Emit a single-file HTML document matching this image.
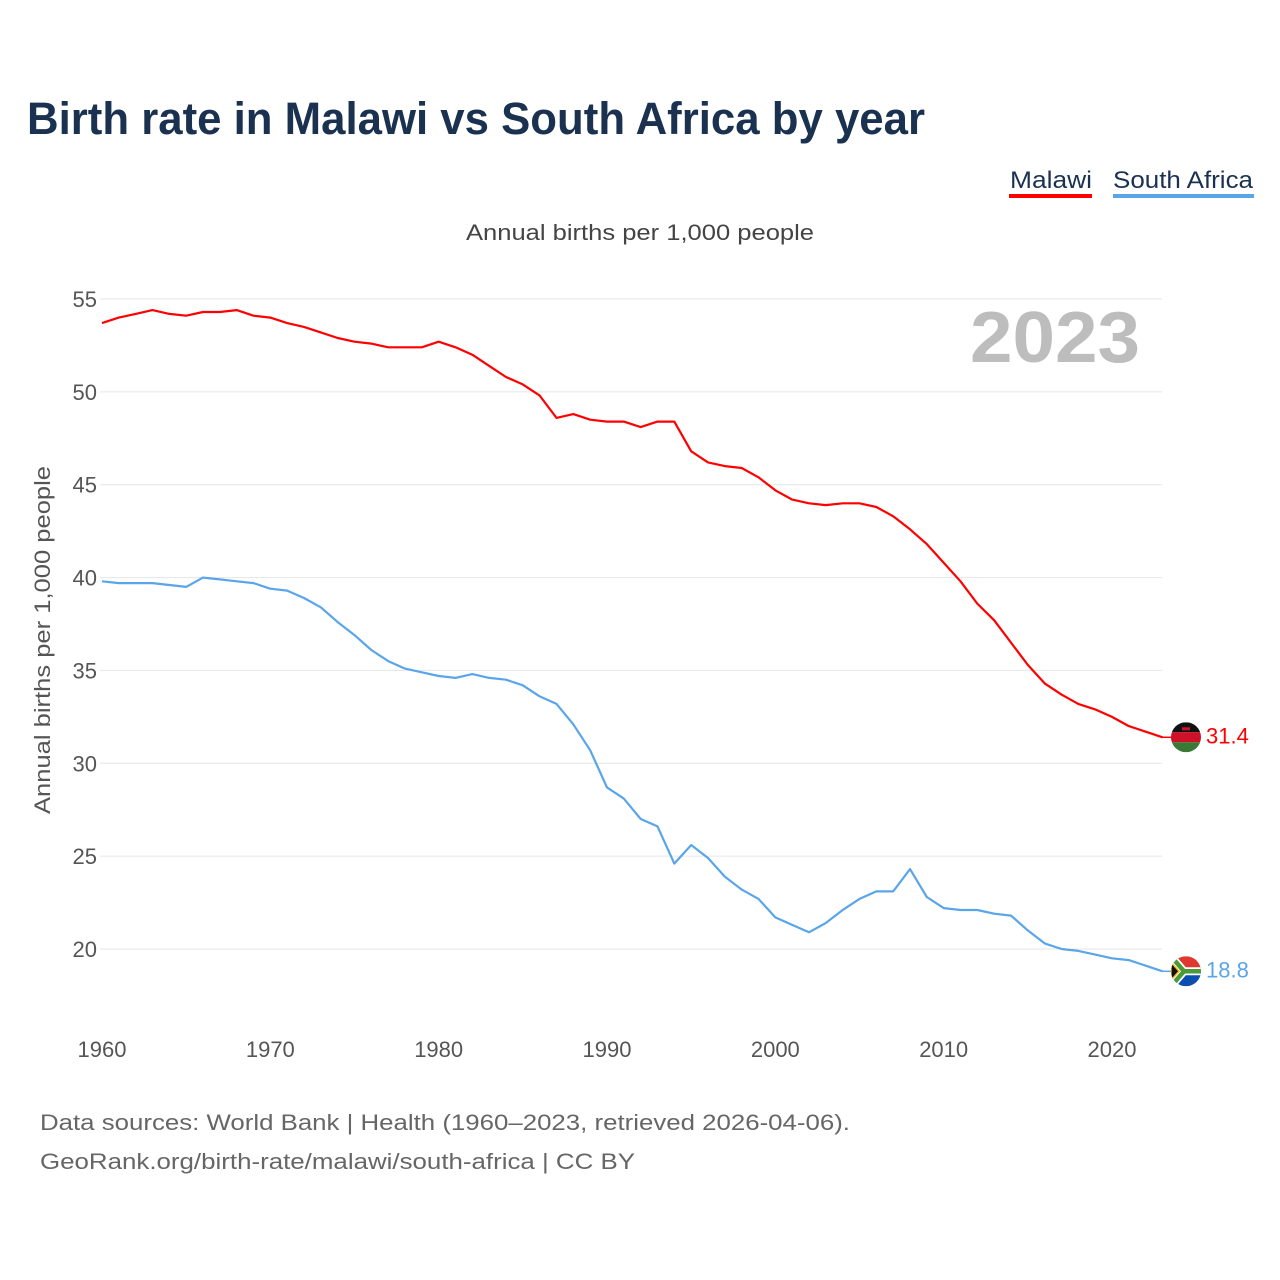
<!DOCTYPE html>
<html><head><meta charset="utf-8"><style>
html,body{margin:0;padding:0;background:#fff}
svg{display:block;font-family:"Liberation Sans",sans-serif}
</style></head><body>
<svg id="chart" width="1280" height="1280" viewBox="0 0 1280 1280">
<text x="27" y="134" font-size="45" font-weight="bold" fill="#1a3150" textLength="898" lengthAdjust="spacingAndGlyphs">Birth rate in Malawi vs South Africa by year</text>
<g>
<text x="1010" y="188" font-size="24" fill="#1a3150" textLength="82" lengthAdjust="spacingAndGlyphs">Malawi</text>
<rect x="1009" y="194" width="83" height="4" fill="#ff0000"/></g>
<g>
<text x="1113" y="188" font-size="24" fill="#1a3150" textLength="140" lengthAdjust="spacingAndGlyphs">South Africa</text>
<rect x="1113" y="194" width="141" height="4" fill="#5aa5ea"/></g>
<text x="640" y="240" font-size="22" fill="#444" text-anchor="middle" textLength="348" lengthAdjust="spacingAndGlyphs">Annual births per 1,000 people</text>
<text x="970" y="362" font-size="72" font-weight="bold" fill="#bdbdbd" textLength="170" lengthAdjust="spacingAndGlyphs">2023</text>
<text transform="translate(50,640) rotate(-90)" font-size="22" fill="#555" text-anchor="middle" textLength="348" lengthAdjust="spacingAndGlyphs">Annual births per 1,000 people</text>
<g id="grid"></g><g id="ylabels"></g><g id="xlabels"></g><g id="lines"></g><g id="ends"></g>
<text x="40" y="1130" font-size="22" fill="#666" textLength="810" lengthAdjust="spacingAndGlyphs">Data sources: World Bank | Health (1960–2023, retrieved 2026-04-06).</text>
<text x="40" y="1169" font-size="22" fill="#666" textLength="595" lengthAdjust="spacingAndGlyphs">GeoRank.org/birth-rate/malawi/south-africa | CC BY</text>
</svg>
<script>
const years = [];
for (let y = 1960; y <= 2023; y++) years.push(y);
const malawi = [53.7,54.0,54.2,54.4,54.2,54.1,54.3,54.3,54.4,54.1,54.0,53.7,53.5,53.2,52.9,52.7,52.6,52.4,52.4,52.4,52.7,52.4,52.0,51.4,50.8,50.4,49.8,48.6,48.8,48.5,48.4,48.4,48.1,48.4,48.4,46.8,46.2,46.0,45.9,45.4,44.7,44.2,44.0,43.9,44.0,44.0,43.8,43.3,42.6,41.8,40.8,39.8,38.6,37.7,36.5,35.3,34.3,33.7,33.2,32.9,32.5,32.0,31.7,31.4];
const southAfrica = [39.8,39.7,39.7,39.7,39.6,39.5,40.0,39.9,39.8,39.7,39.4,39.3,38.9,38.4,37.6,36.9,36.1,35.5,35.1,34.9,34.7,34.6,34.8,34.6,34.5,34.2,33.6,33.2,32.1,30.7,28.7,28.1,27.0,26.6,24.6,25.6,24.9,23.9,23.2,22.7,21.7,21.3,20.9,21.4,22.1,22.7,23.1,23.1,24.3,22.8,22.2,22.1,22.1,21.9,21.8,21.0,20.3,20.0,19.9,19.7,19.5,19.4,19.1,18.8];
const yTicks = [20,25,30,35,40,45,50,55];
const xTicks = [1960,1970,1980,1990,2000,2010,2020];
const endLabels = ["31.4","18.8"];

const NS = "http://www.w3.org/2000/svg";
const X = v => 102 + (v - 1960) * (1010 / 60);
const Y = v => 299 + (55 - v) * (650 / 35);
function mk(tag, attrs, parent) {
  const e = document.createElementNS(NS, tag);
  for (const k in attrs) e.setAttribute(k, attrs[k]);
  parent.appendChild(e); return e;
}
const grid = document.getElementById('grid'), yl = document.getElementById('ylabels'),
      xl = document.getElementById('xlabels'), lines = document.getElementById('lines'),
      ends = document.getElementById('ends');
yTicks.forEach(t => {
  const l = mk('line', {x1: 100, x2: 1162, y1: Y(t), y2: Y(t), stroke: '#e6e6e6', 'stroke-width': 1}, grid);
  
  
  const tx = mk('text', {x: 97, y: Y(t) + 8, 'font-size': 22, fill: '#555', 'text-anchor': 'end'}, yl);
  tx.textContent = t;
  
  
});
xTicks.forEach(t => {
  const tx = mk('text', {x: X(t), y: 1057, 'font-size': 22, fill: '#555', 'text-anchor': 'middle'}, xl);
  tx.textContent = t;
  
  
});
function line(vals, color, name) {
  const d = vals.map((v, i) => (i ? 'L' : 'M') + X(years[i]).toFixed(1) + ',' + Y(v).toFixed(1)).join('');
  const p = mk('path', {d: d, fill: 'none', stroke: color, 'stroke-width': 2.2, 'stroke-linejoin': 'round'}, lines);
  
  
}
line(malawi, '#ff0000', 'malawi-line');
line(southAfrica, '#5aa5ea', 'south-africa-line');

const lastX = X(years[years.length - 1]);
const cx = 1186;
(function(){
  const v = malawi[malawi.length - 1], cy = Y(v);
  mk('line', {x1: lastX, x2: cx - 14, y1: cy, y2: cy, stroke: '#ff0000', 'stroke-width': 1.5}, ends);
  const g = mk('g', {}, ends);
  
  
  const cp = mk('clipPath', {id: 'cm'}, g); mk('circle', {cx: cx, cy: cy, r: 15}, cp);
  const gg = mk('g', {'clip-path': 'url(#cm)'}, g);
  mk('rect', {x: cx-15, y: cy-15, width: 30, height: 10, fill: '#111'}, gg);
  mk('rect', {x: cx-15, y: cy-5, width: 30, height: 10, fill: '#ce1126'}, gg);
  mk('rect', {x: cx-15, y: cy+5, width: 30, height: 10, fill: '#3a7a34'}, gg);
  mk('rect', {x: cx-4, y: cy-10, width: 8, height: 3, fill: '#ce1126'}, gg);
  const t = mk('text', {x: 1206, y: cy + 6, 'font-size': 22, fill: '#ff0000'}, ends);
  t.textContent = endLabels[0];
  
  
})();
(function(){
  const v = southAfrica[southAfrica.length - 1], cy = Y(v);
  mk('line', {x1: lastX, x2: cx - 14, y1: cy, y2: cy, stroke: '#5aa5ea', 'stroke-width': 1.5}, ends);
  const g = mk('g', {}, ends);
  
  
  const cp = mk('clipPath', {id: 'cs'}, g); mk('circle', {cx: cx, cy: cy, r: 15}, cp);
  const gg = mk('g', {'clip-path': 'url(#cs)'}, g);
  mk('rect', {x: cx-15, y: cy-15, width: 30, height: 15, fill: '#de3831'}, gg);
  mk('rect', {x: cx-15, y: cy, width: 30, height: 15, fill: '#0a4fb0'}, gg);
  mk('path', {d: `M${cx-15},${cy-15}L${cx-2},${cy}L${cx-15},${cy+15}M${cx-2},${cy}H${cx+15}`, stroke: '#fff', 'stroke-width': 8, fill: 'none'}, gg);
  mk('path', {d: `M${cx-15},${cy-15}L${cx-2},${cy}L${cx-15},${cy+15}M${cx-2},${cy}H${cx+15}`, stroke: '#4a9a3a', 'stroke-width': 4.5, fill: 'none'}, gg);
  mk('path', {d: `M${cx-15},${cy-9}L${cx-7},${cy}L${cx-15},${cy+9}Z`, fill: '#111', stroke: '#ffb612', 'stroke-width': 1.5}, gg);
  const t = mk('text', {x: 1206, y: cy + 6, 'font-size': 22, fill: '#5aa5ea'}, ends);
  t.textContent = endLabels[1];
  
  
})();
</script>
</body></html>
